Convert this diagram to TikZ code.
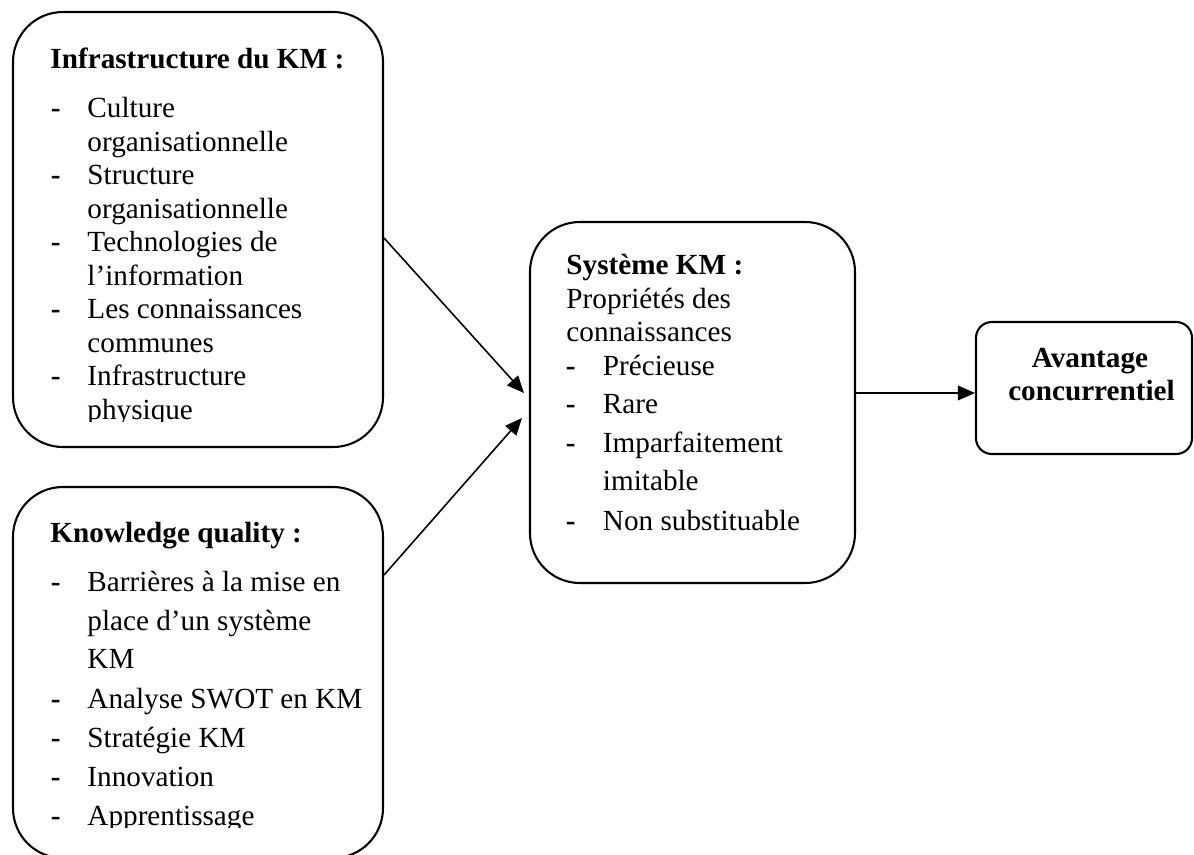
\documentclass[tikz,border=0pt,12pt]{standalone}
\usepackage{fontspec}
\setmainfont{Liberation Serif}
\usetikzlibrary{arrows.meta,fit}
\tikzset{
  kmbox/.style={draw,line width=0.85pt,rounded corners=20.5pt,inner sep=0pt},
  kmarrow/.style={line width=0.65pt,-{Triangle[length=7pt,width=6pt]}},
  kmtxt/.style={anchor=base west,inner sep=0pt},
  kmdash/.style={anchor=base west,inner sep=0pt,font=\bfseries},
}
\begin{document}
\begin{tikzpicture}[x=0.411pt,y=-0.411pt]
  \useasboundingbox (0,0) rectangle (1194,855);
  % the four boxes
  \node[kmbox,fit={(13,12) (383,447)}] (infra) {};
  \node[kmbox,fit={(13,487) (383,858)}] (quality) {};
  \node[kmbox,fit={(530,222) (855,583)}] (kmsys) {};
  \node[kmbox,rounded corners=6.5pt,fit={(976,322) (1192,454)}] (avant) {};
  % infrastructure (text cut at the bottom)
  \begin{scope}
    \clip (13,12) rectangle (383,421);
    \node[kmtxt,font=\bfseries] (infratitle) at (50,68) {Infrastructure du KM :};
    \foreach \y [count=\i] in {117.5,184.5,251.5,318.5,385.5}
      \node[kmdash] (infradash\i) at (50.5,\y) {-};
    \foreach \y/\t [count=\i] in {117.5/Culture, 151/organisationnelle,
        184.5/Structure, 218/organisationnelle, 251.5/Technologies de,
        285/l’information, 318.5/Les connaissances, 352/communes,
        385.5/Infrastructure, 419/physique}
      \node[kmtxt] (infraline\i) at (87,\y) {\t};
  \end{scope}
  % knowledge quality
  \begin{scope}
    \clip (13,487) rectangle (383,827);
    \node[kmtxt,font=\bfseries] (qualtitle) at (50,542) {Knowledge quality :};
    \foreach \y [count=\i] in {591.5,708,747,786.5,825.5}
      \node[kmdash] (qualdash\i) at (50.5,\y) {-};
    \foreach \y/\t [count=\i] in {591.5/Barrières à la mise en,
        630/place d’un système, 668/KM, 708/Analyse SWOT en KM,
        747/Stratégie KM, 786.5/Innovation, 825.5/Apprentissage}
      \node[kmtxt] (qualline\i) at (87,\y) {\t};
  \end{scope}
  % systeme KM
  \node[kmtxt,font=\bfseries] (systitle) at (566,274.5) {Système KM :};
  \node[kmtxt] (sysline1) at (566,308) {Propriétés des};
  \node[kmtxt] (sysline2) at (566,341.5) {connaissances};
  \foreach \y [count=\i] in {375.5,413.5,452,530.5}
    \node[kmdash] (sysdash\i) at (565.5,\y) {-};
  \foreach \y/\t [count=\i] in {375.5/Précieuse, 413.5/Rare,
      452/Imparfaitement, 490.5/imitable, 530.5/Non substituable}
    \node[kmtxt] (sysitem\i) at (602.5,\y) {\t};
  % avantage
  \node[anchor=base,inner sep=0pt,font=\bfseries] (avline1) at (1090,367) {Avantage};
  \node[anchor=base,inner sep=0pt,font=\bfseries] (avline2) at (1091.5,400) {concurrentiel};
  % arrows
  \coordinate (avin) at ([shift={(0,5)}]avant.west);
  \draw[kmarrow] ([shift={(0,8.5)}]infra.east) -- ([shift={(-5,-9.5)}]kmsys.west);
  \draw[kmarrow] ([shift={(0,-97.5)}]quality.east) -- ([shift={(-7,15.5)}]kmsys.west);
  \draw[kmarrow] (kmsys.east |- avin) -- (avin);
\end{tikzpicture}
\end{document}
